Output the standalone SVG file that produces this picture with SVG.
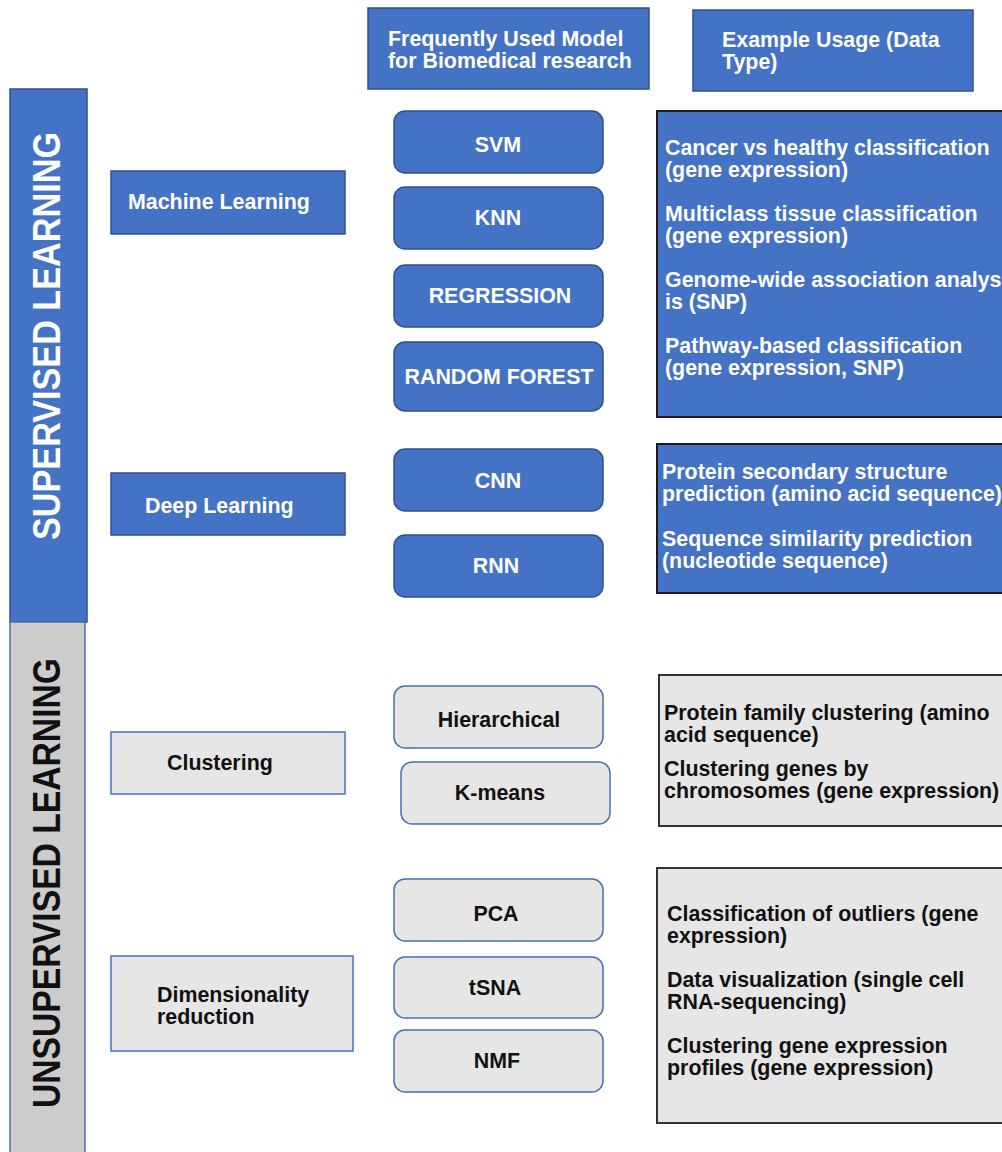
<svg xmlns="http://www.w3.org/2000/svg" width="1002" height="1152" viewBox="0 0 1002 1152">
<style>
text{font-family:"Liberation Sans",Arial,sans-serif;font-weight:bold;font-size:21.4px}
.w{fill:#ffffff}
.k{fill:#111111}
.c{text-anchor:middle}
.hdr{fill:#4472C4;stroke:#2F528F;stroke-width:1.5}
.cat{fill:#4472C4;stroke:#2F528F;stroke-width:1.5}
.catg{fill:#E7E6E6;stroke:#4472C4;stroke-width:1.5}
.mb{fill:#4472C4;stroke:#2F528F;stroke-width:1.5}
.mg{fill:#E7E6E6;stroke:#4A6FB0;stroke-width:1.5}
.ub{fill:#4472C4;stroke:#1A1A1A;stroke-width:2}
.ug{fill:#E7E6E6;stroke:#333333;stroke-width:2}
</style>
<rect width="1002" height="1152" fill="#ffffff"/>
<g id="connectors"/>
<g id="header-model">
<rect class="hdr" x="368" y="8" width="281" height="81"/>
<text class="w" x="388" y="46">Frequently Used Model</text>
<text class="w" x="388" y="68">for Biomedical research</text>
</g>
<g id="header-usage">
<rect class="hdr" x="693" y="10" width="280" height="81"/>
<text class="w" x="722" y="47">Example Usage (Data</text>
<text class="w" x="722" y="69">Type)</text>
</g>
<g id="supervised">
<rect x="10" y="89" width="77" height="533" fill="#4472C4" stroke="#2F528F" stroke-width="1.5"/>
<text class="w c" transform="translate(60,336) rotate(-90)" style="font-size:38px" textLength="408" lengthAdjust="spacingAndGlyphs">SUPERVISED LEARNING</text>
</g>
<g id="unsupervised">
<rect x="10" y="622" width="75" height="535" fill="#CCCCCC" stroke="#4A6FB0" stroke-width="1.5"/>
<text class="k c" transform="translate(60,883) rotate(-90)" style="font-size:38px" textLength="450" lengthAdjust="spacingAndGlyphs">UNSUPERVISED LEARNING</text>
</g>
<g id="machine-learning">
<rect class="cat" x="111" y="171" width="234" height="63"/>
<text class="w" x="128" y="209">Machine Learning</text>
</g>
<g id="deep-learning">
<rect class="cat" x="111" y="473" width="234" height="62"/>
<text class="w" x="145" y="513">Deep Learning</text>
</g>
<g id="clustering">
<rect class="catg" x="111" y="732" width="234" height="62"/>
<text class="k" x="167" y="770">Clustering</text>
</g>
<g id="dimensionality-reduction">
<rect class="catg" x="111" y="956" width="242" height="95"/>
<text class="k" x="157" y="1002">Dimensionality</text>
<text class="k" x="157" y="1024">reduction</text>
</g>
<g id="svm">
<rect class="mb" x="394" y="111" width="209" height="62" rx="11"/>
<text class="w c" x="498" y="152">SVM</text>
</g>
<g id="knn">
<rect class="mb" x="394" y="187" width="209" height="62" rx="11"/>
<text class="w c" x="498" y="225">KNN</text>
</g>
<g id="regression">
<rect class="mb" x="394" y="265" width="209" height="62" rx="11"/>
<text class="w c" x="500" y="303">REGRESSION</text>
</g>
<g id="random-forest">
<rect class="mb" x="394" y="342" width="209" height="69" rx="11"/>
<text class="w c" x="499" y="384">RANDOM FOREST</text>
</g>
<g id="cnn">
<rect class="mb" x="394" y="449" width="209" height="62" rx="11"/>
<text class="w c" x="498" y="488">CNN</text>
</g>
<g id="rnn">
<rect class="mb" x="394" y="535" width="209" height="62" rx="11"/>
<text class="w c" x="496" y="573">RNN</text>
</g>
<g id="hierarchical">
<rect class="mg" x="394" y="686" width="209" height="62" rx="11"/>
<text class="k c" x="499" y="727">Hierarchical</text>
</g>
<g id="k-means">
<rect class="mg" x="401" y="762" width="209" height="62" rx="11"/>
<text class="k c" x="500" y="800">K-means</text>
</g>
<g id="pca">
<rect class="mg" x="394" y="879" width="209" height="62" rx="11"/>
<text class="k c" x="496" y="921">PCA</text>
</g>
<g id="tsna">
<rect class="mg" x="394" y="957" width="209" height="61" rx="11"/>
<text class="k c" x="495" y="995">tSNA</text>
</g>
<g id="nmf">
<rect class="mg" x="394" y="1030" width="209" height="62" rx="11"/>
<text class="k c" x="497" y="1068">NMF</text>
</g>
<g id="usage-ml">
<rect class="ub" x="657" y="111" width="350" height="306"/>
<text class="w" x="665" y="155">Cancer vs healthy classification</text>
<text class="w" x="665" y="177">(gene expression)</text>
<text class="w" x="665" y="221">Multiclass tissue classification</text>
<text class="w" x="665" y="243">(gene expression)</text>
<text class="w" x="665" y="287">Genome-wide association analys</text>
<text class="w" x="665" y="309">is (SNP)</text>
<text class="w" x="665" y="353">Pathway-based classification</text>
<text class="w" x="665" y="375">(gene expression, SNP)</text>
</g>
<g id="usage-dl">
<rect class="ub" x="657" y="444" width="350" height="149"/>
<text class="w" x="662" y="479">Protein secondary structure</text>
<text class="w" x="662" y="501">prediction (amino acid sequence)</text>
<text class="w" x="662" y="546">Sequence similarity prediction</text>
<text class="w" x="662" y="568">(nucleotide sequence)</text>
</g>
<g id="usage-clustering">
<rect class="ug" x="659" y="675" width="348" height="151"/>
<text class="k" x="664" y="720">Protein family clustering (amino</text>
<text class="k" x="664" y="742">acid sequence)</text>
<text class="k" x="664" y="776">Clustering genes by</text>
<text class="k" x="664" y="798">chromosomes (gene expression)</text>
</g>
<g id="usage-dimred">
<rect class="ug" x="657" y="868" width="350" height="255"/>
<text class="k" x="667" y="921">Classification of outliers (gene</text>
<text class="k" x="667" y="943">expression)</text>
<text class="k" x="667" y="987">Data visualization (single cell</text>
<text class="k" x="667" y="1009">RNA-sequencing)</text>
<text class="k" x="667" y="1053">Clustering gene expression</text>
<text class="k" x="667" y="1075">profiles (gene expression)</text>
</g>
</svg>
